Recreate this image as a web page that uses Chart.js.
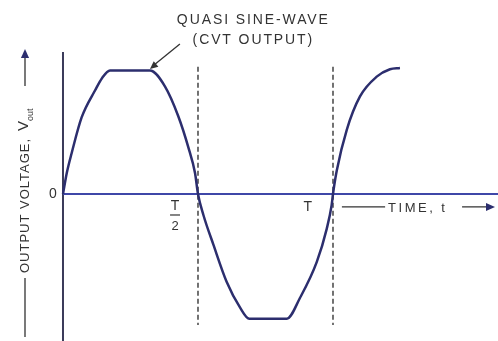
<!DOCTYPE html>
<html>
<head>
<meta charset="utf-8">
<title>Quasi sine-wave (CVT output)</title>
<script src="https://cdn.jsdelivr.net/npm/chart.js@4/dist/chart.umd.min.js"></script>
<style>
    html, body { margin: 0; padding: 0; background: #ffffff; }
    #wrap { width: 498px; height: 341px; }
</style>
</head>
<body>
<div id="wrap"><canvas id="waveChart" width="498" height="341"></canvas></div>
<script>
// time in periods (T = 1)
const timeValues = [
    0, 0.014, 0.032, 0.069, 0.119, 0.145, 0.174, 0.322, 0.378, 0.427, 0.464, 0.489, 0.5,
    0.52, 0.557, 0.606, 0.656, 0.69, 0.829, 0.878, 0.94, 0.977, 0.995, 1.0,
    1.014, 1.051, 1.1, 1.162, 1.211, 1.248
];
// output voltage, plateau level = 1
const voltageValues = [
    0, 0.17, 0.33, 0.62, 0.84, 0.94, 1.0, 1.0, 0.87, 0.63, 0.38, 0.17, 0,
    -0.17, -0.41, -0.71, -0.92, -1.01, -1.01, -0.84, -0.55, -0.28, -0.09, 0,
    0.19, 0.52, 0.79, 0.95, 1.01, 1.02
];
// marked instants on the time axis
const markerTimes = [0.5, 1.0];

const ink = '#2c2e6e';
const axisBlue = '#3f47a8';
const textColor = '#333333';
const fontName = '"Liberation Sans", Arial, sans-serif';

function arrowHead(ctx, x, y, angle, size) {
    ctx.save();
    ctx.translate(x, y);
    ctx.rotate(angle);
    ctx.beginPath();
    ctx.moveTo(0, 0);
    ctx.lineTo(-size, -size * 0.45);
    ctx.lineTo(-size, size * 0.45);
    ctx.closePath();
    ctx.fill();
    ctx.restore();
}

// axes, dashed markers and labels drawn the way the scanned figure has them
const figurePlugin = {
    id: 'figure',
    beforeDatasetsDraw(chart) {
        const ctx = chart.ctx;
        const xs = chart.scales.x, ys = chart.scales.y;
        const x0 = xs.getPixelForValue(0), y0 = ys.getPixelForValue(0);
        ctx.save();
        // vertical axis
        ctx.strokeStyle = '#3b3b5a';
        ctx.lineWidth = 2;
        ctx.beginPath();
        ctx.moveTo(x0, ys.getPixelForValue(1.15));
        ctx.lineTo(x0, chart.chartArea.bottom);
        ctx.stroke();
        // horizontal axis
        ctx.strokeStyle = axisBlue;
        ctx.beginPath();
        ctx.moveTo(x0, y0);
        ctx.lineTo(chart.chartArea.right, y0);
        ctx.stroke();
        // dashed lines at T/2 and T
        ctx.strokeStyle = '#444444';
        ctx.lineWidth = 1.5;
        ctx.setLineDash([5, 3]);
        markerTimes.forEach(t => {
            const xp = xs.getPixelForValue(t);
            ctx.beginPath();
            ctx.moveTo(xp, ys.getPixelForValue(1.03));
            ctx.lineTo(xp, ys.getPixelForValue(-1.06));
            ctx.stroke();
        });
        ctx.restore();
    },
    afterDatasetsDraw(chart) {
        const ctx = chart.ctx;
        const xs = chart.scales.x, ys = chart.scales.y;
        const px = t => xs.getPixelForValue(t);
        const py = v => ys.getPixelForValue(v);
        ctx.save();
        ctx.fillStyle = textColor;
        ctx.strokeStyle = textColor;
        ctx.textBaseline = 'middle';

        // zero label
        ctx.font = '14px ' + fontName;
        ctx.textAlign = 'center';
        ctx.fillText('0', px(-0.037), py(0));

        // T/2 label
        ctx.fillText('T', px(0.415), py(-0.097));
        ctx.lineWidth = 1.2;
        ctx.beginPath();
        ctx.moveTo(px(0.415) - 5, py(-0.17));
        ctx.lineTo(px(0.415) + 5, py(-0.17));
        ctx.stroke();
        ctx.font = '13px ' + fontName;
        ctx.fillText('2', px(0.415), py(-0.26));

        // T label
        ctx.font = '14px ' + fontName;
        ctx.fillText('T', px(0.907), py(-0.105));

        // TIME, t ---->
        const ty = py(-0.105);
        ctx.lineWidth = 1.3;
        ctx.beginPath();
        ctx.moveTo(px(1.033), ty);
        ctx.lineTo(px(1.193), ty);
        ctx.moveTo(px(1.478), ty);
        ctx.lineTo(px(1.575), ty);
        ctx.stroke();
        ctx.fillStyle = ink;
        arrowHead(ctx, px(1.6), ty, 0, 9);
        ctx.fillStyle = textColor;
        ctx.textAlign = 'left';
        ctx.font = '13px ' + fontName;
        ctx.letterSpacing = '2.5px';
        ctx.fillText('TIME, t', px(1.204), ty + 1);

        // callout
        ctx.textAlign = 'center';
        ctx.font = '14px ' + fontName;
        ctx.letterSpacing = '1.9px';
        ctx.fillText('QUASI SINE-WAVE', px(0.705), py(1.409));
        ctx.fillText('(CVT OUTPUT)', px(0.705), py(1.247));
        ctx.letterSpacing = '0px';
        ctx.strokeStyle = '#333333';
        ctx.lineWidth = 1.3;
        ctx.beginPath();
        ctx.moveTo(px(0.433), py(1.215));
        ctx.lineTo(px(0.335), py(1.04));
        ctx.stroke();
        ctx.fillStyle = '#333333';
        const ang = Math.atan2(py(1.012) - py(1.215), px(0.322) - px(0.433));
        arrowHead(ctx, px(0.322), py(1.012), ang, 8);

        // vertical axis title, read bottom to top
        ctx.translate(25, 0);
        ctx.rotate(-Math.PI / 2);
        ctx.strokeStyle = textColor;
        ctx.fillStyle = textColor;
        ctx.lineWidth = 1.3;
        ctx.beginPath();
        ctx.moveTo(-337, 0);
        ctx.lineTo(-278, 0);
        ctx.moveTo(-86, 0);
        ctx.lineTo(-58, 0);
        ctx.stroke();
        ctx.fillStyle = ink;
        arrowHead(ctx, -49, 0, 0, 9);
        ctx.fillStyle = textColor;
        ctx.textAlign = 'left';
        ctx.font = '13px ' + fontName;
        ctx.letterSpacing = '1px';
        ctx.fillText('OUTPUT VOLTAGE,', -273, 0);
        ctx.letterSpacing = '0px';
        ctx.font = '15px ' + fontName;
        ctx.fillText('V', -131, -1);
        ctx.font = '9px ' + fontName;
        ctx.fillText('out', -121, 6);
        ctx.restore();
    }
};

const points = timeValues.map((t, i) => ({ x: t, y: voltageValues[i] }));

new Chart(document.getElementById('waveChart'), {
    type: 'line',
    data: {
        datasets: [{
            label: 'Output voltage',
            data: points,
            borderColor: ink,
            borderWidth: 2.5,
            pointRadius: 0,
            fill: false,
            cubicInterpolationMode: 'monotone'
        }]
    },
    options: {
        responsive: false,
        animation: false,
        layout: { padding: 0 },
        plugins: {
            legend: { display: false },
            tooltip: { enabled: false },
            title: { display: false }
        },
        scales: {
            x: { type: 'linear', display: false, min: -0.2333, max: 1.6111 },
            y: { type: 'linear', display: false, min: -1.1903, max: 1.5709 }
        }
    },
    plugins: [figurePlugin]
});
</script>
</body>
</html>
